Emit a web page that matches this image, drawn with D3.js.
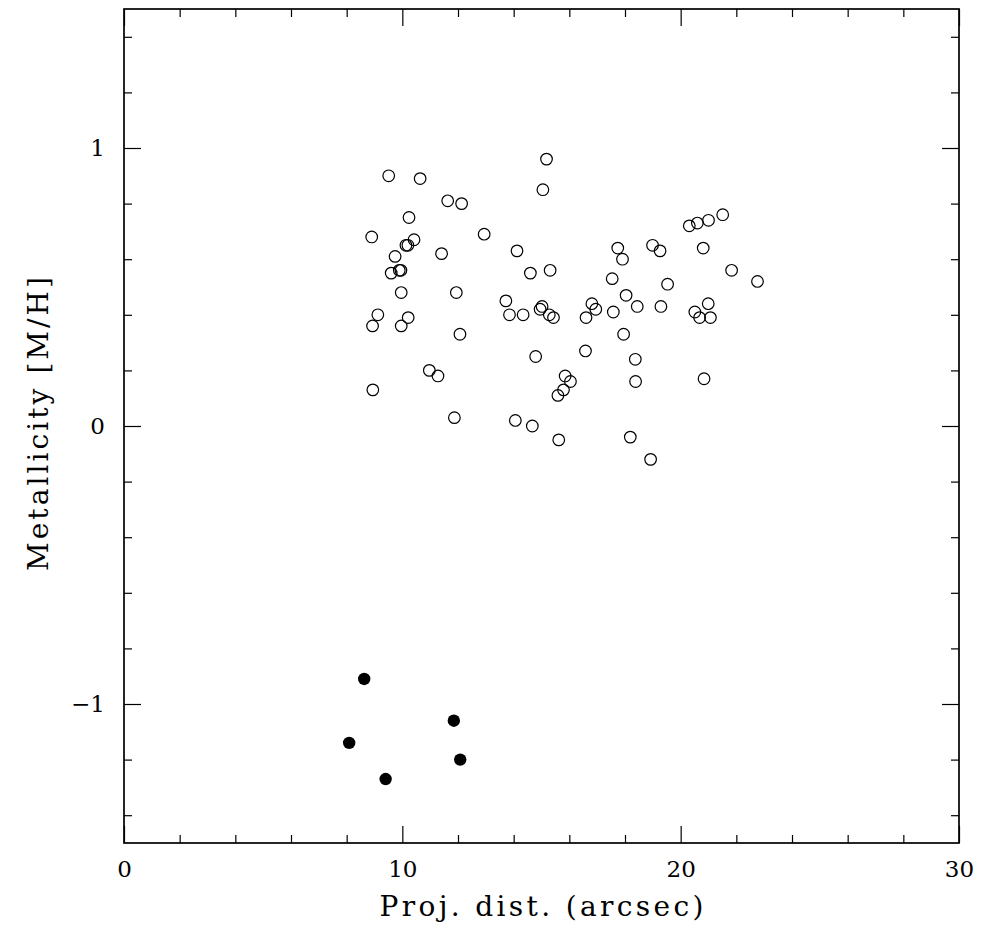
<!DOCTYPE html>
<html>
<head>
<meta charset="utf-8">
<script src="https://cdn.jsdelivr.net/npm/d3@7"></script>
<style>
  body { margin: 0; background: #fff; }
  text { font-family: "DejaVu Serif", "Liberation Serif", serif; fill: #000; }
</style>
</head>
<body>
<div id="chart"></div>
<script>
// open circles: projected distance (arcsec) and [M/H]
let openDist = [9.51, 10.64, 15.18, 15.05, 11.63, 12.13, 10.24, 8.90, 12.94, 10.42,
  10.13, 10.20, 9.74, 11.41, 14.12, 9.60, 9.89, 9.95, 14.60, 15.31,
  9.96, 11.94, 13.72, 13.85, 14.34, 15.02, 14.95, 15.28, 15.43, 9.12,
  8.93, 10.21, 9.96, 12.07, 14.79, 10.97, 11.28, 8.94, 11.87, 14.06,
  14.67, 17.74, 17.91, 17.54, 18.04, 16.81, 16.95, 16.60, 17.58, 17.95,
  16.58, 15.85, 16.04, 15.79, 15.59, 15.62, 21.51, 21.00, 20.60, 20.31,
  18.99, 19.26, 20.81, 21.83, 22.76, 19.53, 18.44, 19.29, 20.99, 20.51,
  20.68, 21.07, 18.37, 18.38, 20.84, 18.19, 18.92]
let openMet = [0.90, 0.89, 0.96, 0.85, 0.81, 0.80, 0.75, 0.68, 0.69, 0.67,
  0.65, 0.65, 0.61, 0.62, 0.63, 0.55, 0.56, 0.56, 0.55, 0.56,
  0.48, 0.48, 0.45, 0.40, 0.40, 0.43, 0.42, 0.40, 0.39, 0.40,
  0.36, 0.39, 0.36, 0.33, 0.25, 0.20, 0.18, 0.13, 0.03, 0.02,
  0.00, 0.64, 0.60, 0.53, 0.47, 0.44, 0.42, 0.39, 0.41, 0.33,
  0.27, 0.18, 0.16, 0.13, 0.11, -0.05, 0.76, 0.74, 0.73, 0.72,
  0.65, 0.63, 0.64, 0.56, 0.52, 0.51, 0.43, 0.43, 0.44, 0.41,
  0.39, 0.39, 0.24, 0.16, 0.17, -0.04, -0.12]

// filled circles
let filledDist = [8.63, 11.85, 8.09, 12.08, 9.40]
let filledMet = [-0.91, -1.06, -1.14, -1.20, -1.27]

let xMajor = [0, 10, 20, 30]
let xMinor = [2, 4, 6, 8, 12, 14, 16, 18, 22, 24, 26, 28]
let yMajor = [-1, 0, 1]
let yMinor = [-1.4, -1.2, -0.8, -0.6, -0.4, -0.2, 0.2, 0.4, 0.6, 0.8, 1.2, 1.4]

let xTitle = 'Proj. dist. (arcsec)'
let yTitle = 'Metallicity [M/H]'

let margin = {top: 9, right: 30, bottom: 88, left: 124},
  width = 989 - margin.left - margin.right,
  height = 931 - margin.top - margin.bottom;

let svg = d3.select('#chart')
  .append('svg')
    .attr('width', 989)
    .attr('height', 931)
  .append('g')
    .attr('transform', 'translate(' + margin.left + ',' + margin.top + ')')

let x = d3.scaleLinear().domain([0, 30]).range([0, width])
let y = d3.scaleLinear().domain([-1.5, 1.5]).range([height, 0])

function styleAxis(g){
  g.attr('font-family', null).attr('font-size', null)
  g.select('.domain').remove()
  g.selectAll('line').attr('stroke', '#000').attr('stroke-width', 1.2)
  g.selectAll('text').style('font-size', '23px').style('font-family', '"DejaVu Serif", serif')
}

// minor ticks on all four sides
svg.append('g').attr('transform', 'translate(0,' + height + ')')
  .call(d3.axisBottom(x).tickValues(xMinor).tickSize(-8).tickFormat(''))
  .call(styleAxis)
svg.append('g')
  .call(d3.axisTop(x).tickValues(xMinor).tickSize(-8).tickFormat(''))
  .call(styleAxis)
svg.append('g')
  .call(d3.axisLeft(y).tickValues(yMinor).tickSize(-8).tickFormat(''))
  .call(styleAxis)
svg.append('g').attr('transform', 'translate(' + width + ',0)')
  .call(d3.axisRight(y).tickValues(yMinor).tickSize(-8).tickFormat(''))
  .call(styleAxis)

// major ticks with labels
svg.append('g').attr('transform', 'translate(0,' + height + ')')
  .call(d3.axisBottom(x).tickValues(xMajor).tickSize(-17).tickPadding(18).tickFormat(d3.format('d')))
  .call(styleAxis)
svg.append('g')
  .call(d3.axisTop(x).tickValues(xMajor).tickSize(-17).tickFormat(''))
  .call(styleAxis)
svg.append('g')
  .call(d3.axisLeft(y).tickValues(yMajor).tickSize(-17).tickPadding(19).tickFormat(d3.format('d')))
  .call(styleAxis)
svg.append('g').attr('transform', 'translate(' + width + ',0)')
  .call(d3.axisRight(y).tickValues(yMajor).tickSize(-17).tickFormat(''))
  .call(styleAxis)

// frame
svg.append('rect')
  .attr('x', 0).attr('y', 0)
  .attr('width', width).attr('height', height)
  .attr('fill', 'none')
  .attr('stroke', '#000')
  .attr('stroke-width', 1.7)

svg.selectAll('.open')
  .data(openDist)
  .enter()
  .append('circle')
  .attr('class', 'open')
  .attr('cx', function(d){ return x(d) })
  .attr('cy', function(d, i){ return y(openMet[i]) })
  .attr('r', 5.8)
  .attr('fill', 'none')
  .attr('stroke', '#000')
  .attr('stroke-width', 1.2)

svg.selectAll('.filled')
  .data(filledDist)
  .enter()
  .append('circle')
  .attr('class', 'filled')
  .attr('cx', function(d){ return x(d) })
  .attr('cy', function(d, i){ return y(filledMet[i]) })
  .attr('r', 6.2)
  .attr('fill', '#000')

// axis titles
svg.append('text')
  .attr('x', width / 2)
  .attr('y', height + 73)
  .attr('text-anchor', 'middle')
  .attr('font-size', 28)
  .attr('textLength', 324)
  .attr('lengthAdjust', 'spacing')
  .text(xTitle)

svg.append('text')
  .attr('transform', 'translate(-76,' + (height / 2 - 2) + ') rotate(-90)')
  .attr('text-anchor', 'middle')
  .attr('font-size', 28)
  .attr('textLength', 294)
  .attr('lengthAdjust', 'spacing')
  .text(yTitle)
</script>
</body>
</html>
